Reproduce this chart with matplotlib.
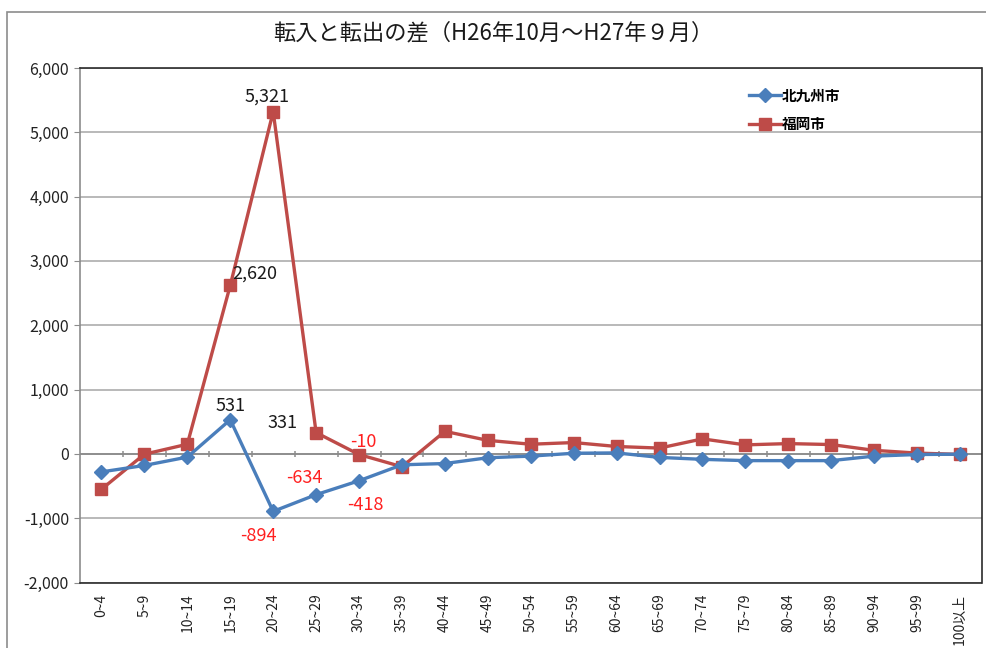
import matplotlib
matplotlib.use("Agg")
import matplotlib.pyplot as plt
from matplotlib.patches import Rectangle
import numpy as np

plt.rcParams["font.family"] = ["Noto Sans CJK JP", "DejaVu Sans"]

TITLE = "転入と転出の差（H26年10月～H27年９月）"
AGE_GROUPS = ["0~4", "5~9", "10~14", "15~19", "20~24", "25~29", "30~34",
              "35~39", "40~44", "45~49", "50~54", "55~59", "60~64", "65~69",
              "70~74", "75~79", "80~84", "85~89", "90~94", "95~99", "100以上"]
KITAKYUSHU = [-280, -180, -50, 531, -894, -634, -418, -170, -150, -60, -35,
              10, 15, -55, -85, -105, -105, -105, -35, -10, -5]
FUKUOKA = [-550, -5, 150, 2620, 5321, 331, -10, -200, 350, 210, 150, 176,
           115, 90, 233, 140, 160, 145, 55, 12, -8]

# (index, series, text, colour, x offset px, y offset px, ha)
LABELS = [
    (3, "k", "531", "#1a1a1a", 0, 14, "center"),
    (4, "k", "-894", "#ff2020", -15, -25, "center"),
    (5, "k", "-634", "#ff2020", -12, 17, "center"),
    (6, "k", "-418", "#ff2020", 6, -24, "center"),
    (3, "f", "2,620", "#1a1a1a", 2, 12, "left"),
    (4, "f", "5,321", "#1a1a1a", -6, 15, "center"),
    (5, "f", "331", "#1a1a1a", -34, 10, "center"),
    (6, "f", "-10", "#ff2020", 4, 13, "center"),
]

BLUE = "#4a7ebb"
RED = "#be4b48"

fig = plt.figure(figsize=(9.86, 6.48), dpi=100)
fig.patches.append(Rectangle((7 / 986, -0.05), 1.2, 1 - 12 / 648 + 0.05,
                             transform=fig.transFigure, fill=False,
                             edgecolor="#8c8c8c", linewidth=1.2))
ax = fig.add_axes([80 / 986, 1 - 582.5 / 648, 901.5 / 986, 514.5 / 648])

x = np.arange(len(AGE_GROUPS))
ax.plot(x, KITAKYUSHU, color=BLUE, lw=2.4, marker="D", ms=7,
        label="北九州市", zorder=4)
ax.plot(x, FUKUOKA, color=RED, lw=2.4, marker="s", ms=8.5,
        label="福岡市", zorder=3)

ax.set_xlim(-0.5, len(AGE_GROUPS) - 0.5)
ax.set_ylim(-2000, 6000)
ax.set_yticks(np.arange(-2000, 6001, 1000))
ax.set_yticklabels([f"{v:,}" for v in range(-2000, 6001, 1000)],
                   fontsize=11.5, color="#222222")
ax.yaxis.grid(True, color="#a6a6a6", lw=1.1)
ax.set_axisbelow(True)
ax.tick_params(axis="y", length=4, color="#8c8c8c", pad=4)

ax.set_xticks(x)
ax.set_xticklabels(AGE_GROUPS, rotation=90, fontsize=10, color="#222222")
ax.tick_params(axis="x", length=0, pad=8)

# category axis crosses at zero
ax.axhline(0, color="#8c8c8c", lw=1.3, zorder=2)
ax.vlines(x[:-1] + 0.5, -45, 45, color="#8c8c8c", lw=1.1, zorder=2)

for s in ["top", "right", "bottom"]:
    ax.spines[s].set_color("#2b2b2b")
    ax.spines[s].set_linewidth(1.2)
ax.spines["left"].set_color("#8c8c8c")
ax.spines["left"].set_linewidth(1.2)

for i, ser, txt, col, dx, dy, ha in LABELS:
    yv = KITAKYUSHU[i] if ser == "k" else FUKUOKA[i]
    ax.annotate(txt, (i, yv), xytext=(dx, dy), textcoords="offset pixels",
                ha=ha, va="center", fontsize=13, color=col)

leg = ax.legend(loc="upper left", bbox_to_anchor=(0.727, 0.988), frameon=False,
                handlelength=2.2, labelspacing=0.85, handletextpad=0.1,
                prop={"weight": "bold", "size": 10.5})

fig.text(0.5, 1 - 33 / 648, TITLE, ha="center", va="center", fontsize=16,
         color="#1a1a1a")

fig.savefig("out.png", dpi=100)
